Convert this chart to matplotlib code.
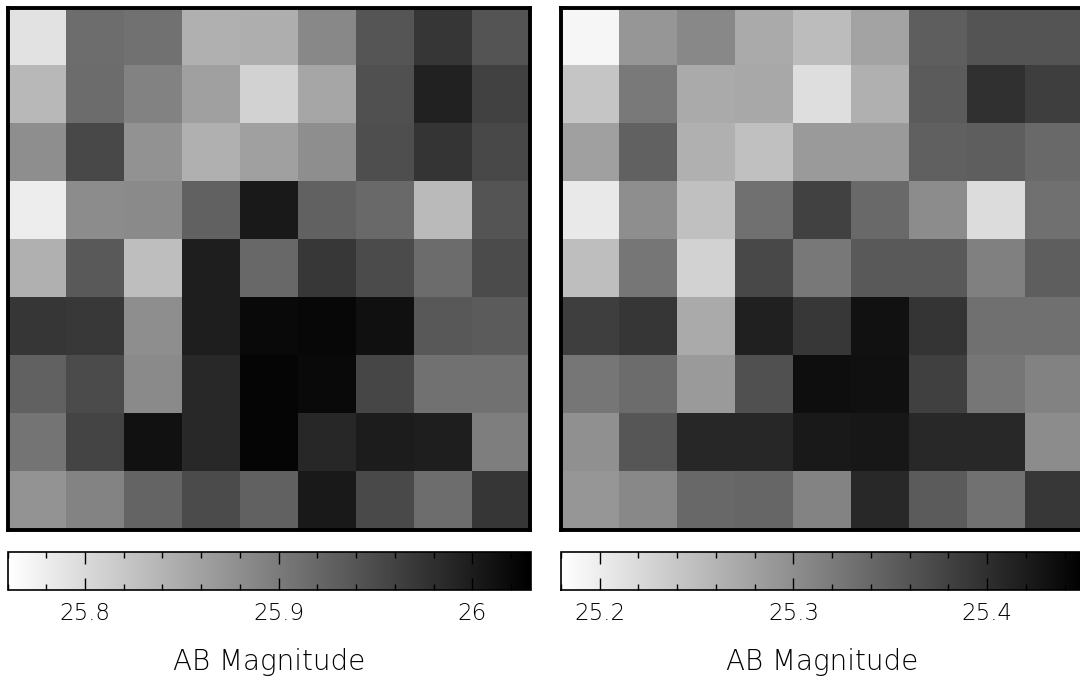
import matplotlib
matplotlib.use("Agg")
import matplotlib.pyplot as plt
from matplotlib.ticker import FixedLocator, MultipleLocator, FuncFormatter
import numpy as np

# AB magnitude maps (9x9, top row first)
left_mag = [
    [25.791, 25.914, 25.909, 25.844, 25.846, 25.886, 25.940, 25.973, 25.941],
    [25.835, 25.916, 25.892, 25.861, 25.808, 25.854, 25.945, 25.994, 25.960],
    [25.880, 25.954, 25.875, 25.844, 25.861, 25.880, 25.947, 25.975, 25.954],
    [25.780, 25.882, 25.884, 25.926, 26.002, 25.926, 25.918, 25.833, 25.941],
    [25.844, 25.935, 25.829, 25.998, 25.920, 25.971, 25.950, 25.916, 25.950],
    [25.973, 25.969, 25.880, 25.998, 26.019, 26.022, 26.013, 25.937, 25.933],
    [25.926, 25.950, 25.884, 25.986, 26.024, 26.019, 25.956, 25.909, 25.909],
    [25.907, 25.958, 26.011, 25.986, 26.024, 25.988, 26.000, 25.998, 25.897],
    [25.873, 25.890, 25.924, 25.950, 25.926, 26.002, 25.952, 25.914, 25.973],
]
right_mag = [
    [25.190, 25.291, 25.306, 25.270, 25.251, 25.278, 25.350, 25.361, 25.361],
    [25.242, 25.321, 25.270, 25.272, 25.215, 25.264, 25.353, 25.399, 25.384],
    [25.281, 25.346, 25.264, 25.247, 25.287, 25.287, 25.348, 25.350, 25.338],
    [25.204, 25.300, 25.247, 25.331, 25.380, 25.338, 25.302, 25.217, 25.331],
    [25.249, 25.325, 25.228, 25.374, 25.323, 25.355, 25.355, 25.314, 25.350],
    [25.384, 25.393, 25.270, 25.416, 25.391, 25.431, 25.395, 25.331, 25.331],
    [25.325, 25.336, 25.287, 25.365, 25.435, 25.433, 25.382, 25.325, 25.312],
    [25.298, 25.359, 25.408, 25.408, 25.422, 25.425, 25.406, 25.406, 25.302],
    [25.291, 25.306, 25.340, 25.342, 25.310, 25.406, 25.353, 25.329, 25.391],
]
left_range = [25.76, 26.03]
right_range = [25.18, 25.45]
left_ticks = [25.8, 25.9, 26.0]
right_ticks = [25.2, 25.3, 25.4]
cbar_label = "AB Magnitude"

W, H = 1080, 679
fig = plt.figure(figsize=(W / 100, H / 100), dpi=100)
plt.rcParams['font.family'] = ['DejaVu Sans']


def px_axes(x0, y0, x1, y1):
    return fig.add_axes([x0 / W, 1 - y1 / H, (x1 - x0) / W, (y1 - y0) / H])


fmt = FuncFormatter(lambda v, p: "%g" % round(v, 3))

panels = [
    (left_mag, left_range, left_ticks, 7.5, 529.5),
    (right_mag, right_range, right_ticks, 561.0, 1083.0),
]
for data, rng, ticks, x0, x1 in panels:
    ax = px_axes(x0, 7.5, x1, 529.5)
    im = ax.imshow(np.array(data), cmap="gray_r", vmin=rng[0], vmax=rng[1],
                   interpolation="nearest", aspect="auto")
    ax.set_xticks([])
    ax.set_yticks([])
    for s in ax.spines.values():
        s.set_linewidth(2.8)
        s.set_color("black")

    cax = px_axes(x0, 552, x0 + 523, 590)
    cb = fig.colorbar(im, cax=cax, orientation="horizontal")
    cb.outline.set_linewidth(1.2)
    cax.xaxis.set_major_locator(FixedLocator(ticks))
    cax.xaxis.set_minor_locator(MultipleLocator(0.02))
    cax.xaxis.set_major_formatter(fmt)
    cax.tick_params(axis="x", which="both", direction="in", top=True, bottom=True,
                    width=1.0, color="black")
    cax.tick_params(axis="x", which="major", length=8.5, pad=9, labelsize=16.5)
    cax.tick_params(axis="x", which="minor", length=4)
    for lab in cax.get_xticklabels():
        lab.set_fontweight("light")
    fig.text((x0 + 261.5) / W, 1 - 670 / H, cbar_label, ha="center", va="baseline",
             fontsize=20, fontweight="light")

fig.savefig("out.png", dpi=100)
